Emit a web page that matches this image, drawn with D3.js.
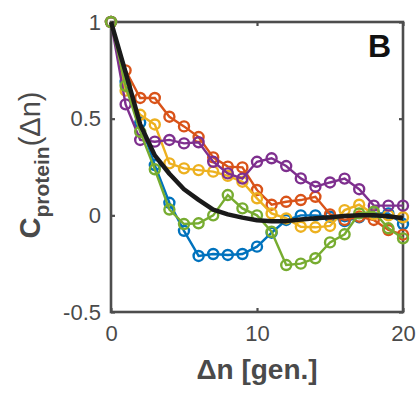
<!DOCTYPE html>
<html>
<head>
<meta charset="utf-8">
<script src="https://cdn.jsdelivr.net/npm/d3@7"></script>
<style>
  body { margin: 0; background: #fff; }
  svg { display: block; font-family: "Liberation Sans", Arial, sans-serif; }
</style>
</head>
<body>
<figure id="chart" style="margin:0"></figure>
<script>
// generation lag
const gens = [0, 1, 2, 3, 4, 5, 6, 7, 8, 9, 10, 11, 12, 13, 14, 15, 16, 17, 18, 19, 20];

// autocorrelation per lineage
const blue   = [1, 0.69, 0.48, 0.26, 0.065, -0.08, -0.21, -0.2, -0.205, -0.2, -0.162, -0.09, -0.024, 0.0, 0.0, -0.007, -0.03, -0.01, 0.01, 0.01, -0.045];
const orange = [1, 0.75, 0.607, 0.607, 0.51, 0.46, 0.405, 0.3, 0.252, 0.248, 0.131, 0.055, 0.07, 0.079, 0.096, 0.005, -0.024, -0.007, -0.024, -0.076, -0.1];
const yellow = [1, 0.645, 0.52, 0.47, 0.269, 0.243, 0.234, 0.226, 0.204, 0.174, 0.088, 0.01, -0.016, -0.059, -0.062, -0.055, 0.027, 0.055, 0.005, 0.0, -0.01];
const purple = [1, 0.574, 0.39, 0.381, 0.39, 0.372, 0.378, 0.277, 0.217, 0.19, 0.277, 0.295, 0.255, 0.191, 0.148, 0.17, 0.19, 0.135, 0.05, 0.05, 0.05];
const green  = [1, 0.67, 0.432, 0.238, 0.03, -0.045, -0.041, 0.0, 0.105, 0.036, 0.0, -0.085, -0.257, -0.25, -0.222, -0.14, -0.098, 0.01, 0.019, -0.067, -0.119];
// mean curve
const mean   = [1, 0.74, 0.47, 0.31, 0.215, 0.135, 0.08, 0.03, 0.005, -0.012, -0.025, -0.03, -0.03, -0.022, -0.015, -0.01, -0.003, 0.0, 0.0, -0.005, -0.015];

const xTicks = [0, 10, 20];
const yTicks = [-0.5, 0, 0.5, 1];

const width = 419, height = 393;
const margin = { left: 111, right: 16, top: 22, bottom: 81 };

const svg = d3.select("#chart")
  .append("svg")
  .attr("width", width)
  .attr("height", height);

const x = d3.scaleLinear().domain([0, 20]).range([margin.left, width - margin.right]);
const y = d3.scaleLinear().domain([-0.5, 1]).range([height - margin.bottom, margin.top]);

const axisColor = "#4d4d4d";

// box
svg.append("rect")
  .attr("x", x(0)).attr("y", y(1))
  .attr("width", x(20) - x(0)).attr("height", y(-0.5) - y(1))
  .attr("fill", "none")
  .attr("stroke", axisColor)
  .attr("stroke-width", 2.6);

// inward ticks on all four sides
const tickLen = 4;
const fmt = d => String(d);  // plain hyphen minus like the original
const bottomAxis = d3.axisBottom(x).tickValues(xTicks).tickSize(-tickLen).tickFormat(fmt);
const topAxis = d3.axisTop(x).tickValues(xTicks).tickSize(-tickLen).tickFormat("");
const leftAxis = d3.axisLeft(y).tickValues(yTicks).tickSize(-tickLen).tickFormat(fmt);
const rightAxis = d3.axisRight(y).tickValues(yTicks).tickSize(-tickLen).tickFormat("");

function styleAxis(g) {
  g.select(".domain").remove();
  g.selectAll(".tick line").attr("stroke", axisColor).attr("stroke-width", 2.2);
  g.selectAll(".tick text")
    .attr("fill", "#4a4a4a")
    .style("font-size", "22px")
    .style("font-family", "'Liberation Sans', Arial, sans-serif");
}

svg.append("g")
  .attr("transform", "translate(0," + y(-0.5) + ")")
  .call(bottomAxis)
  .call(styleAxis)
  .call(g => g.selectAll(".tick text").attr("y", 13));

svg.append("g")
  .attr("transform", "translate(0," + y(1) + ")")
  .call(topAxis)
  .call(styleAxis);

svg.append("g")
  .attr("transform", "translate(" + x(0) + ",0)")
  .call(leftAxis)
  .call(styleAxis)
  .call(g => g.selectAll(".tick text").attr("x", -10));

svg.append("g")
  .attr("transform", "translate(" + x(20) + ",0)")
  .call(rightAxis)
  .call(styleAxis);

// lineage curves with open circle markers
const series = [
  { values: blue, color: "#0072BD" },
  { values: orange, color: "#D95319" },
  { values: yellow, color: "#EDB120" },
  { values: purple, color: "#7E2F8E" },
  { values: green, color: "#77AC30" }
];

const line = d3.line()
  .x((d, i) => x(gens[i]))
  .y(d => y(d));

series.forEach(function(s) {
  const g = svg.append("g");
  g.append("path")
    .datum(s.values)
    .attr("d", line)
    .attr("fill", "none")
    .attr("stroke", s.color)
    .attr("stroke-width", 2.4);
  g.selectAll("circle")
    .data(s.values)
    .enter()
    .append("circle")
    .attr("cx", (d, i) => x(gens[i]))
    .attr("cy", d => y(d))
    .attr("r", 5)
    .attr("fill", "none")
    .attr("stroke", s.color)
    .attr("stroke-width", 2.4);
});

// mean
svg.append("path")
  .datum(mean)
  .attr("d", line)
  .attr("fill", "none")
  .attr("stroke", "#1a1a1a")
  .attr("stroke-width", 4.5)
  .attr("stroke-linejoin", "round");

// axis labels
svg.append("text")
  .attr("x", (x(0) + x(20)) / 2)
  .attr("y", 379)
  .attr("text-anchor", "middle")
  .attr("fill", "#4a4a4a")
  .style("font-size", "28px")
  .style("font-weight", "bold")
  .text("\u0394n [gen.]");

const yLabel = svg.append("text")
  .attr("transform", "translate(40," + 165 + ") rotate(-90)")
  .attr("text-anchor", "middle")
  .attr("fill", "#4a4a4a")
  .style("font-size", "29px")
  .style("font-weight", "bold");
yLabel.append("tspan").text("C");
yLabel.append("tspan").attr("dy", 9).style("font-size", "21px").text("protein");
yLabel.append("tspan").attr("dy", -9).style("font-weight", "normal").text("(\u0394n)");

// panel letter
svg.append("text")
  .attr("x", 391)
  .attr("y", 57)
  .attr("text-anchor", "end")
  .attr("fill", "#111")
  .style("font-size", "32px")
  .style("font-weight", "bold")
  .text("B");
</script>
</body>
</html>
